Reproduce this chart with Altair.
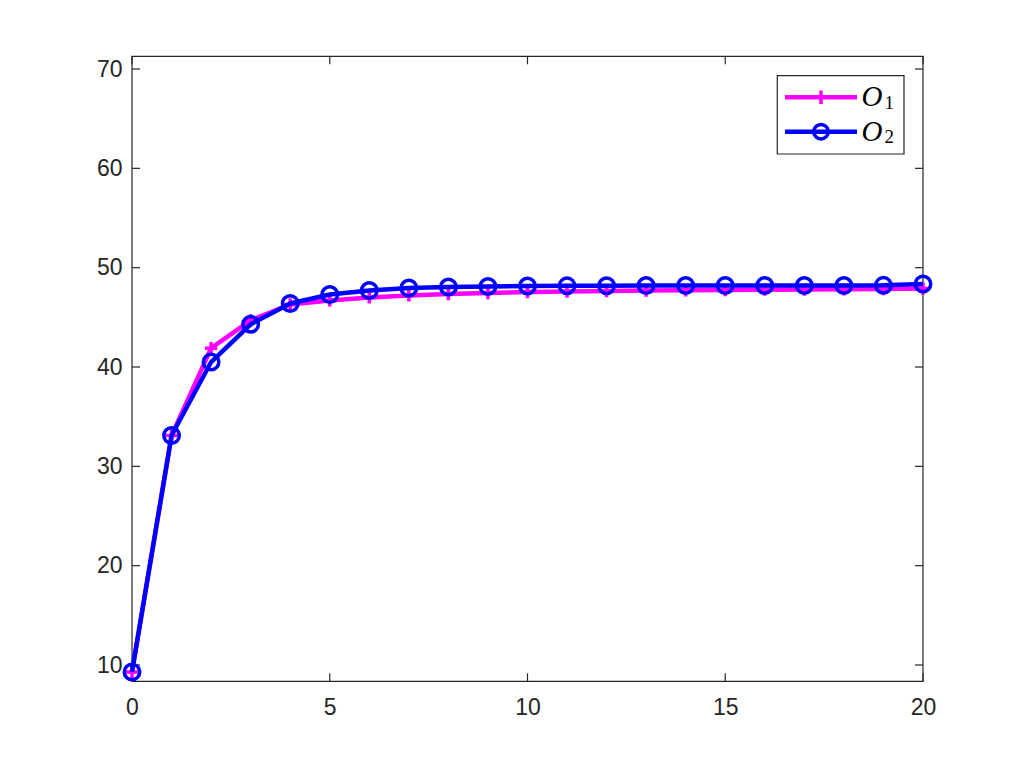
import altair as alt
import pandas as pd

x_vals = list(range(21))
o1_vals = [9.3, 33.1, 41.9, 44.7, 46.3, 46.7, 47.0, 47.2, 47.35, 47.45, 47.55, 47.6, 47.65,
           47.7, 47.72, 47.75, 47.78, 47.8, 47.82, 47.85, 47.9]
o2_vals = [9.3, 33.1, 40.5, 44.3, 46.4, 47.3, 47.7, 47.95, 48.05, 48.1, 48.15, 48.17, 48.18,
           48.2, 48.2, 48.2, 48.2, 48.2, 48.2, 48.22, 48.35]
x_ticks = [0, 5, 10, 15, 20]
y_ticks = [10, 20, 30, 40, 50, 60, 70]

W, H = 791, 625
AX = "#262626"
MAG = "#FF00FF"
BLU = "#0000FF"

df1 = pd.DataFrame({"x": x_vals, "y": o1_vals})
df2 = pd.DataFrame({"x": x_vals, "y": o2_vals})
dxt = pd.DataFrame({"t": x_ticks})
dyt = pd.DataFrame({"t": y_ticks})
one = pd.DataFrame({"a": [0]})

xs = alt.Scale(domain=[0, 20], nice=False, zero=False)
ys = alt.Scale(domain=[8.36, 71.28], nice=False, zero=False)

axis_common = dict(domain=False, ticks=False, grid=False, title=None, labelFlush=False,
                   labelFont="Liberation Sans", labelFontSize=23, labelColor=AX)

line1 = alt.Chart(df1).mark_line(color=MAG, strokeWidth=4.5).encode(
    x=alt.X("x:Q", scale=xs, axis=alt.Axis(values=x_ticks, labelPadding=15, **axis_common)),
    y=alt.Y("y:Q", scale=ys, axis=alt.Axis(values=y_ticks, labelPadding=10, **axis_common)),
)
pts1 = alt.Chart(df1).mark_point(shape="M-1,0H1M0,-1V1", color=MAG, filled=False,
                                 strokeWidth=3.5, size=150, opacity=1).encode(
    x=alt.X("x:Q", scale=xs), y=alt.Y("y:Q", scale=ys))
line2 = alt.Chart(df2).mark_line(color=BLU, strokeWidth=4.5).encode(
    x=alt.X("x:Q", scale=xs), y=alt.Y("y:Q", scale=ys))
pts2 = alt.Chart(df2).mark_point(shape="circle", color=BLU, filled=False,
                                 strokeWidth=3.5, size=240, opacity=1).encode(
    x=alt.X("x:Q", scale=xs), y=alt.Y("y:Q", scale=ys))

box = alt.Chart(one).mark_rect(fillOpacity=0, stroke=AX, strokeWidth=1.2).encode(
    x=alt.value(0), x2=alt.value(W), y=alt.value(0), y2=alt.value(H))

xt_bot = alt.Chart(dxt).mark_rule(color=AX, strokeWidth=1.2).encode(
    x=alt.X("t:Q", scale=xs), y=alt.value(H), y2=alt.value(H - 8))
xt_top = alt.Chart(dxt).mark_rule(color=AX, strokeWidth=1.2).encode(
    x=alt.X("t:Q", scale=xs), y=alt.value(0), y2=alt.value(8))
yt_left = alt.Chart(dyt).mark_rule(color=AX, strokeWidth=1.2).encode(
    y=alt.Y("t:Q", scale=ys), x=alt.value(0), x2=alt.value(8))
yt_right = alt.Chart(dyt).mark_rule(color=AX, strokeWidth=1.2).encode(
    y=alt.Y("t:Q", scale=ys), x=alt.value(W - 8), x2=alt.value(W))

# legend
lx0, lx1, ly0, ly1 = 645.3, 772, 19.4, 97.7
leg_box = alt.Chart(one).mark_rect(fill="white", stroke=AX, strokeWidth=1.2).encode(
    x=alt.value(lx0), x2=alt.value(lx1), y=alt.value(ly0), y2=alt.value(ly1))
leg_l1 = alt.Chart(one).mark_rule(color=MAG, strokeWidth=4.5).encode(
    x=alt.value(653), x2=alt.value(725), y=alt.value(41))
leg_p1 = alt.Chart(one).mark_point(shape="M-1,0H1M0,-1V1", color=MAG, filled=False,
                                   strokeWidth=3.5, size=180, opacity=1).encode(
    x=alt.value(689), y=alt.value(41))
leg_l2 = alt.Chart(one).mark_rule(color=BLU, strokeWidth=4.5).encode(
    x=alt.value(653), x2=alt.value(725), y=alt.value(75.4))
leg_p2 = alt.Chart(one).mark_point(shape="circle", color=BLU, filled=False,
                                   strokeWidth=3.5, size=210, opacity=1).encode(
    x=alt.value(689), y=alt.value(75.4))
txt_style = dict(align="left", baseline="alphabetic", font="Liberation Serif", color="black")
leg_t1 = alt.Chart(one).mark_text(fontStyle="italic", fontSize=29, **txt_style).encode(
    x=alt.value(729.5), y=alt.value(50.2), text=alt.value("O"))
leg_s1 = alt.Chart(one).mark_text(fontSize=19, **txt_style).encode(
    x=alt.value(752.5), y=alt.value(52.4), text=alt.value("1"))
leg_t2 = alt.Chart(one).mark_text(fontStyle="italic", fontSize=29, **txt_style).encode(
    x=alt.value(729.5), y=alt.value(84.6), text=alt.value("O"))
leg_s2 = alt.Chart(one).mark_text(fontSize=19, **txt_style).encode(
    x=alt.value(752.5), y=alt.value(86.8), text=alt.value("2"))

chart = alt.layer(
    line1, box, xt_bot, xt_top, yt_left, yt_right, pts1, line2, pts2,
    leg_box, leg_l1, leg_p1, leg_l2, leg_p2, leg_t1, leg_s1, leg_t2, leg_s2,
).properties(
    width=W, height=H,
    autosize=alt.AutoSizeParams(type="none"),
    padding={"left": 124, "top": 48.3, "right": 70, "bottom": 60},
    background="white",
).configure_view(stroke=None)

chart.save("out.html", embed_options={"renderer": "svg", "actions": False})
